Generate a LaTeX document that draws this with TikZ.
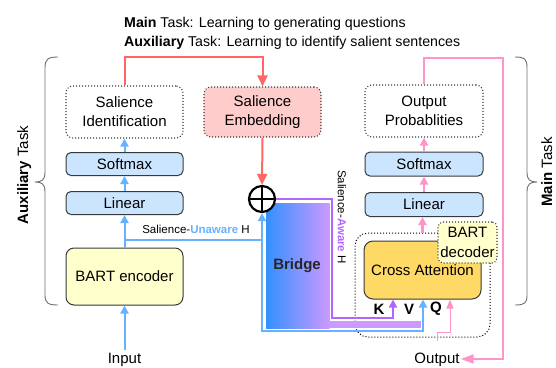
\documentclass[tikz,border=0pt]{standalone}
\usepackage{fontspec}
\setmainfont{Liberation Sans}
\usetikzlibrary{arrows.meta,calc}
\definecolor{rdc}{RGB}{255,102,102}
\definecolor{sefill}{RGB}{255,204,204}
\definecolor{blc}{RGB}{102,178,255}
\definecolor{blfill}{RGB}{204,229,255}
\definecolor{encfill}{RGB}{255,255,204}
\definecolor{cafill}{RGB}{255,217,102}
\definecolor{pkc}{RGB}{255,148,200}
\definecolor{puc}{RGB}{178,102,255}
\definecolor{brL}{RGB}{51,144,255}
\definecolor{brR}{RGB}{204,153,255}
\definecolor{bdr}{RGB}{54,57,61}
\definecolor{brc}{RGB}{110,110,110}
\newcommand\fsmain{\fontsize{15}{19}\selectfont}
\newcommand\fssmall{\fontsize{11.5}{14}\selectfont}
\newcommand\fstitle{\fontsize{14.2}{17}\selectfont}
\begin{document}
\begin{tikzpicture}[x=1pt,y=-1pt,
  >={Triangle[width=8pt,length=8pt]},
  box/.style={draw=bdr, line width=1pt, rounded corners=5pt, minimum width=117pt, inner sep=0pt, align=center, font=\fsmain},
  bluebox/.style={box, fill=blfill},
  dotbox/.style={box, dotted, line width=1.1pt, rounded corners=7pt, fill=white},
  lab/.style={font=\fsmain, inner sep=1pt},
  bl/.style={draw=blc, line width=2pt},
  rd/.style={draw=rdc, line width=2pt},
  pk/.style={draw=pkc, line width=2.2pt},
  pkthin/.style={draw=pkc, line width=1pt},
  pu/.style={draw=puc, line width=2pt},
  brace/.style={draw=brc, line width=0.9pt},
]
\useasboundingbox (0,0) rectangle (556,367);

% titles
\node[font=\fstitle, anchor=base west, inner sep=0pt] (t1) at (124,27) {\textbf{Main} Task: Learning to generating questions};
\node[font=\fstitle, anchor=base west, inner sep=0pt] (t2) at (124,46) {\textbf{Auxiliary} Task: Learning to identify salient sentences};

% braces
\draw[brace] (58,57) .. controls (48,57) and (45,59) .. (45,68) -- (45,172) .. controls (45,180) and (42,182) .. (35,182) .. controls (42,182) and (45,184) .. (45,192) -- (45,295) .. controls (45,303) and (48,305) .. (58,305);
\draw[brace] (515,57) .. controls (525,57) and (527,59) .. (527,68) -- (527,172) .. controls (527,180) and (530,182) .. (537,182) .. controls (530,182) and (527,184) .. (527,192) -- (527,295) .. controls (527,303) and (525,305) .. (515,305);
\node[font=\fsmain, rotate=90, anchor=base, inner sep=0pt] (auxt) at (28,175) {\textbf{Auxiliary} Task};
\node[font=\fsmain, rotate=90, anchor=base, inner sep=0pt] (maint) at (552,172) {\textbf{Main} Task};

% left column
\node[dotbox, minimum height=52pt] (si) at (124.5,112) {Salience\\Identification};
\node[bluebox, minimum height=23pt] (smL) at (124.5,164) {Softmax};
\node[bluebox, minimum height=23pt] (lnL) at (124.5,203) {Linear};
\node[box, fill=encfill, rounded corners=8pt, minimum height=57pt] (enc) at (124.5,276.5) {BART encoder};
\node[lab, anchor=base] (in) at (124.5,363) {Input};

% middle
\node[dotbox, fill=sefill, minimum height=50pt] (se) at (262.5,112) {Salience\\Embedding};

% right column
\node[dotbox, minimum width=118pt, minimum height=52pt] (op) at (424,111) {Output\\Probablities};
\node[bluebox, minimum width=118pt, minimum height=24pt] (smR) at (424,164) {Softmax};
\node[bluebox, minimum width=118pt, minimum height=24pt] (lnR) at (424,204.5) {Linear};
\node[draw=black, dotted, line width=1pt, rounded corners=13pt, minimum width=135pt, minimum height=104pt, inner sep=0pt] (dec) at (422.5,285) {};
\node[box, fill=cafill, rounded corners=9pt, minimum height=58pt] (ca) at (422.5,270) {Cross Attention};
\node[dotbox, fill=encfill, minimum width=59pt, minimum height=41pt, rounded corners=5pt, font=\fontsize{15}{20}\selectfont] (decl) at (467.5,242.5) {BART\\decoder};
\node[lab, anchor=base] (out) at (437,363) {Output};

\node[lab, font=\fsmain\bfseries] (kl) at (379,309) {K};
\node[lab, font=\fsmain\bfseries] (vl) at (409,309) {V};
\node[lab, font=\fsmain\bfseries] (ql) at (436,309) {Q};
\coordinate (kpt) at ($(ca.south)+(-29.5,0)$);
\coordinate (vpt) at ($(ca.south)+(0.5,0)$);
\coordinate (qpt) at ($(ca.south)+(27.5,0)$);

% bridge
\shade[left color=brL, right color=brR] (266,203) rectangle (329.5,328);
\fill[brR] (329,321) rectangle (421,328);
\node[font=\fsmain\bfseries, text=black!85] (br) at (297,266) {Bridge};

% circle
\node[circle, draw=black, line width=2.2pt, fill=white, minimum size=26pt, inner sep=0pt] (plus) at (262,199) {};
\draw[line width=2.2pt] (plus.north) -- (plus.south) (plus.west) -- (plus.east);

% blue connectors
\coordinate (jL) at (124.5,240);
\coordinate (jR) at (262,240);
\draw[bl,->] (in.north) ++(0,-1) -- (enc.south);
\draw[bl,->] (enc.north) -- (lnL.south);
\draw[bl,->] (lnL.north) -- (smL.south);
\draw[bl,->] (smL.north) -- (si.south);
\draw[bl] (jL) -- (jR);
\draw[bl,->] (jR) -- (plus.south);
\draw[bl,->] (jR) -- (262,331) -| (vpt);
\node[font=\fssmall, anchor=base, inner sep=0pt] (unaw) at (196,233) {Salience-\textcolor{blc}{\textbf{Unaware}} H};

% purple
\draw[pu,->] (plus.east) -- (332,199) -- (332,318) -| (kpt);
\node[font=\fssmall, rotate=-90, inner sep=0pt] (aw) at (342,217) {Salience-\textcolor{puc}{\textbf{Aware}} H};

% red
\draw[rd,-{Triangle[width=10pt,length=11pt]}] (si.north) -- ++(0,-28) -| (se.north);
\draw[rd,-{Triangle[width=10pt,length=11pt]}] (se.south) -- (plus.north);

% pink
\draw[pk,->] (dec.north) -- (dec.north |- lnR.south);
\draw[pk,->] (lnR.north) -- (smR.south);
\draw[pk,->] (smR.north) -- (op.south);
\draw[pk,-{Triangle[width=9pt,length=13pt]}] (op.north) |- (503,58) -- (503,359) -- (out.east |- 0,359);
\coordinate (qs) at (437,341);
\draw[pkthin,-{Triangle[width=7pt,length=9pt]}] (qs) -- (437,332) -| (qpt);
\end{tikzpicture}
\end{document}
